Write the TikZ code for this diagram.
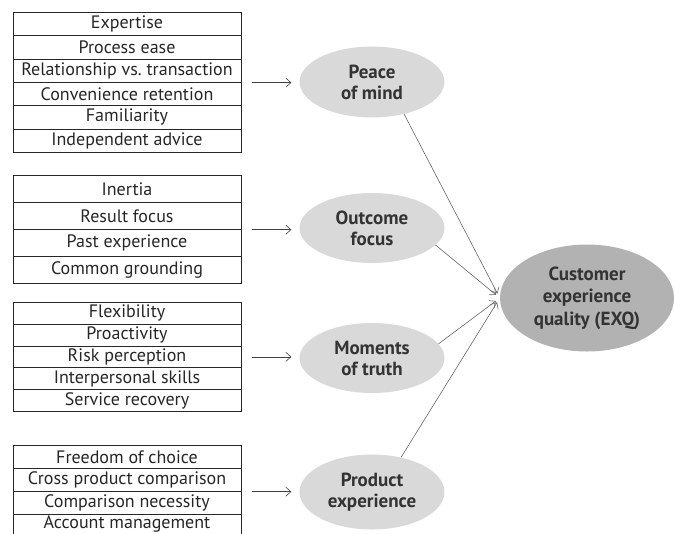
\documentclass[tikz,border=0pt]{standalone}
\usepackage{fontspec}
\setmainfont{PT Sans}
\usetikzlibrary{shapes.geometric,arrows.meta}
\begin{document}
\begin{tikzpicture}[
        x=1pt, y=-1pt,
        >={Straight Barb[length=5pt,width=9pt]},
        item/.style={
            draw=black!85,
            line width=0.7pt,
            minimum width=228pt,
            minimum height=#1,
            inner sep=0pt,
            anchor=north,
            text=black!85,
            font=\fontsize{18}{20}\selectfont
        },
        factor/.style={
            ellipse,
            fill=gray!30,
            minimum width=145pt,
            minimum height=70pt,
            inner sep=0pt,
            align=center,
            text=black!80,
            font=\fontsize{19}{21}\selectfont\bfseries
        },
        quality/.style={
            ellipse,
            fill=gray!60,
            minimum width=174pt,
            minimum height=107pt,
            inner sep=0pt,
            align=center,
            text=black!80,
            font=\fontsize{19}{22.5}\selectfont\bfseries
        },
        feed/.style={
            ->,
            draw=black!75,
            line width=0.6pt,
            shorten >=8pt
        },
        link/.style={
            ->,
            draw=black!60,
            line width=0.6pt,
            shorten >=5pt
        }
    ]
        \clip (0,0) rectangle (674,533);

        % Peace of mind items
        \foreach \t [count=\i] in {Expertise, Process ease, Relationship vs.\ transaction, Convenience retention, Familiarity, Independent advice} {
            \node[item=23.3pt] (pm\i) at (127,{12+23.3*(\i-1)}) {\t};
        }

        % Outcome focus items
        \foreach \t [count=\i] in {Inertia, Result focus, Past experience, Common grounding} {
            \node[item=27pt] (of\i) at (127,{175+27*(\i-1)}) {\t};
        }

        % Moments of truth items
        \foreach \t [count=\i] in {Flexibility, Proactivity, Risk perception, Interpersonal skills, Service recovery} {
            \node[item=21.8pt] (mt\i) at (127,{302+21.8*(\i-1)}) {\t};
        }

        % Product experience items (last row runs off the page)
        \foreach \t [count=\i] in {Freedom of choice, Cross product comparison, Comparison necessity} {
            \node[item=23pt] (pe\i) at (127,{445+23*(\i-1)}) {\t};
        }
        \node[item=20pt] (pe4) at (127,514) {Account management};

        % Dimensions
        \node[factor, minimum height=71pt] (peace) at (372,82) {Peace\\of mind};
        \node[factor] (outcome) at (372,228) {Outcome\\focus};
        \node[factor] (moments) at (372,358) {Moments\\of truth};
        \node[factor, minimum height=75pt] (product) at (372,492) {Product\\experience};

        % Overall construct
        \node[quality] (exq) at (587,298) {Customer\\experience\\quality (EXQ)};

        % Items to dimensions
        \coordinate (pm-out) at ([xshift=11pt]pm3.south east);
        \coordinate (of-out) at ([xshift=11pt]of2.south east);
        \coordinate (mt-out) at ([xshift=11pt]mt3.east);
        \coordinate (pe-out) at ([xshift=11pt]pe2.south east);
        \draw[feed] (pm-out) -- (pm-out -| peace.west);
        \draw[feed] (of-out) -- (of-out -| outcome.west);
        \draw[feed] (mt-out) -- (mt-out -| moments.west);
        \draw[feed] (pe-out) -- (pe-out -| product.west);

        % Dimensions to EXQ
        \draw[link] (peace.-45) -- (exq.west);
        \draw[link] (outcome.-15) -- (exq.west);
        \draw[link] (moments.12) -- (exq.west);
        \draw[link] (product.50) -- (exq.west);
    \end{tikzpicture}
\end{document}
